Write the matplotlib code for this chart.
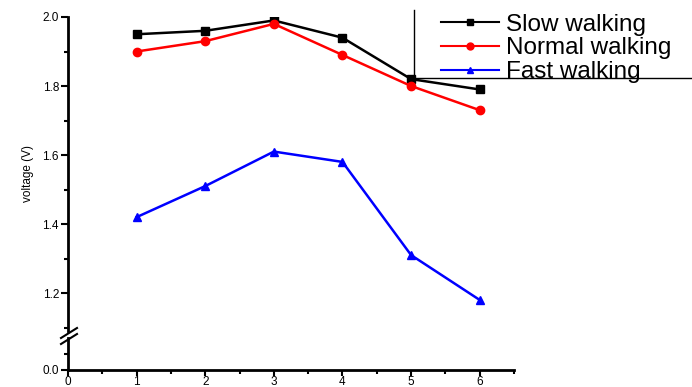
import matplotlib.pyplot as plt
from matplotlib.lines import Line2D
from matplotlib.ticker import MultipleLocator

plt.rcParams["font.family"] = ["Liberation Sans", "DejaVu Sans"]

x = [1, 2, 3, 4, 5, 6]
slow = [1.95, 1.96, 1.99, 1.94, 1.82, 1.79]
normal = [1.90, 1.93, 1.98, 1.89, 1.80, 1.73]
fast = [1.42, 1.51, 1.61, 1.58, 1.31, 1.18]
series = [
    ("Slow walking", slow, "black", "s"),
    ("Normal walking", normal, "red", "o"),
    ("Fast walking", fast, "blue", "^"),
]

W, H = 692, 387
fig = plt.figure(figsize=(W / 100, H / 100), dpi=100)

left = 68 / W
width = (514 - 68) / W
ax = fig.add_axes([left, 1 - 331 / H, width, 314 / H])
ax_lo = fig.add_axes([left, 1 - 370 / H, width, 32 / H])

handles = []
for label, vals, color, marker in series:
    (h,) = ax.plot(x, vals, color=color, marker=marker, lw=1.8, ms=6,
                   label=label)
    handles.append(h)

ax.set_xlim(0, 6.5)
ax.set_ylim(1.09, 2.0)
ax_lo.set_xlim(0, 6.5)
ax_lo.set_ylim(0, 0.1)

for a in (ax, ax_lo):
    for s in ("top", "right"):
        a.spines[s].set_visible(False)
    a.spines["left"].set_linewidth(2)
    a.spines["bottom"].set_linewidth(2)
    a.tick_params(which="major", direction="out", length=5, width=1.5,
                  labelsize=8.5, pad=1.5)
    a.tick_params(which="minor", direction="out", length=3, width=1.5)
    a.patch.set_alpha(0)

ax.spines["bottom"].set_visible(False)
ax.tick_params(axis="x", which="both", bottom=False, labelbottom=False)
ax.yaxis.set_major_locator(MultipleLocator(0.2))
ax.yaxis.set_minor_locator(MultipleLocator(0.1))
ax.set_yticks([1.2, 1.4, 1.6, 1.8, 2.0])
ax.set_yticklabels(["1.2", "1.4", "1.6", "1.8", "2.0"])

ax_lo.set_yticks([0.0])
ax_lo.set_yticklabels(["0.0"])
ax_lo.set_yticks([0.05], minor=True)
ax_lo.xaxis.set_major_locator(MultipleLocator(1))
ax_lo.xaxis.set_minor_locator(MultipleLocator(0.5))
ax_lo.tick_params(axis="x", which="major", length=4, pad=0, labelsize=8.5)

ax.set_ylabel("voltage (V)", fontsize=8.5, labelpad=6)

# axis break marks
for dy in (0, 6):
    fig.add_artist(Line2D([61 / W, 77 / W],
                          [1 - (338 + dy) / H, 1 - (328 + dy) / H],
                          color="black", lw=1.5))

# legend
leg = fig.legend(handles=handles, loc="upper left",
                 bbox_to_anchor=(431 / W, 1 - 4 / H), frameon=False,
                 fontsize=17.5, handlelength=2.4, handletextpad=0.3,
                 labelspacing=0.07, borderaxespad=0)
for h in leg.legend_handles:
    h.set_markersize(5)
    h.set_linewidth(1.5)
fig.add_artist(Line2D([414 / W, 414 / W], [1 - 10 / H, 1 - 78 / H],
                      color="black", lw=1))
fig.add_artist(Line2D([414 / W, 1.0], [1 - 78 / H, 1 - 78 / H],
                      color="black", lw=1))

fig.savefig("out.png", dpi=100)
